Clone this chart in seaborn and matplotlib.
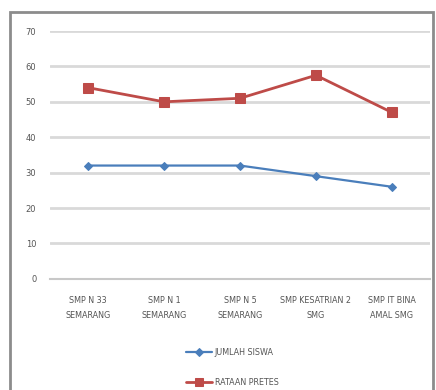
import pandas as pd
import numpy as np
import seaborn as sns
import matplotlib.pyplot as plt
from matplotlib.patches import Rectangle

# data
schools = ["SMP N 33\nSEMARANG", "SMP N 1\nSEMARANG", "SMP N 5\nSEMARANG",
           "SMP KESATRIAN 2\nSMG", "SMP IT BINA\nAMAL SMG"]
jumlah_siswa = [32, 32, 32, 29, 26]
rataan_pretes = [54, 50, 51, 57.5, 47]
series_names = ["JUMLAH SISWA", "RATAAN PRETES"]

df = pd.DataFrame({
    "school": schools * 2,
    "value": jumlah_siswa + rataan_pretes,
    "series": [series_names[0]] * len(schools) + [series_names[1]] * len(schools),
})

sns.set_style("white")
plt.rcParams['font.family'] = ['DejaVu Sans']

fig = plt.figure(figsize=(4.36, 3.90), dpi=100)
ax = fig.add_axes([0.115, 0.285, 0.871, 0.6355])

palette = {series_names[0]: "#4a7ebb", series_names[1]: "#be4b48"}
sns.lineplot(data=df, x="school", y="value", hue="series", style="series",
             markers={series_names[0]: "D", series_names[1]: "s"},
             dashes=False, palette=palette, linewidth=2, markersize=6,
             sort=False, ax=ax)
# thinner blue line with smaller markers, as in the original
ax.lines[0].set_linewidth(1.6)
ax.lines[0].set_markersize(4.5)
ax.lines[1].set_markersize(7)
for ln in ax.lines[:2]:
    ln.set_markeredgecolor(ln.get_color())

ax.set_ylim(0, 70)
ax.set_yticks(range(0, 71, 10))
ax.set_xlim(-0.5, 4.5)
ax.yaxis.grid(True, color="#d9d9d9", linewidth=2)
ax.set_axisbelow(True)
for s in ["top", "right", "left"]:
    ax.spines[s].set_visible(False)
ax.spines["bottom"].set_color("#c8c8c8")
ax.spines["bottom"].set_linewidth(1.5)
ax.tick_params(axis="y", labelsize=6, colors="#555555", length=0, pad=10)
ax.tick_params(axis="x", labelsize=5.8, colors="#555555", length=0, pad=12)
for t in ax.get_xticklabels():
    t.set_linespacing(1.9)
ax.set_xlabel("")
ax.set_ylabel("")

handles, labels = ax.get_legend_handles_labels()
handles[0].set_markersize(4.5)
handles[0].set_linewidth(1.6)
handles[1].set_markersize(6)
for h in handles:
    h.set_markeredgecolor(h.get_color())
ax.legend(handles, labels, loc="upper center", bbox_to_anchor=(0.48, -0.25),
          frameon=False, fontsize=5.8, labelcolor="#555555", ncol=1,
          handlelength=3.2, handletextpad=0.3, labelspacing=2.6)

# outer chart border
fig.patches.append(Rectangle((10 / 436, -0.05), 423 / 436, 1 - 12 / 390 + 0.05,
                             transform=fig.transFigure, fill=False,
                             edgecolor="#8c8c8c", linewidth=2))

fig.savefig("out.png", dpi=100)
